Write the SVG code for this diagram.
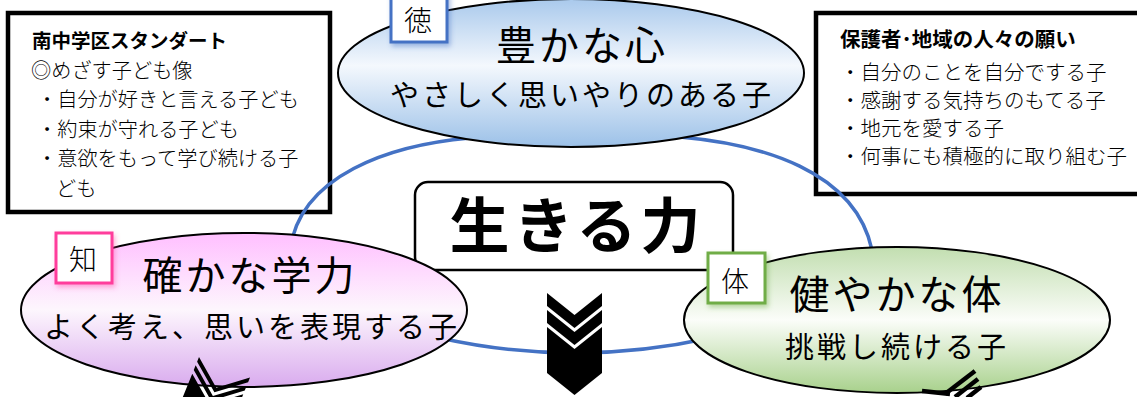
<svg xmlns="http://www.w3.org/2000/svg" width="1137" height="397" viewBox="0 0 1137 397">
<style>
.t{font-family:"Noto Sans CJK JP","Noto Sans",sans-serif;fill:#000}
.b{font-weight:700}
.box{fill:#fff;stroke:#000;stroke-width:4.5}
.ell{stroke:#000;stroke-width:2}
.conn{fill:none;stroke:#4472c4;stroke-width:3.5}
.big{font-size:40px;letter-spacing:3px;text-anchor:middle}
.sub{font-size:29px;letter-spacing:3px;text-anchor:middle}
.lab{font-size:28px;text-anchor:middle;font-weight:300}
.list{font-size:20.2px;font-weight:300}
.rlist{font-size:20.5px;font-weight:300}
.lb{fill:#fff;stroke-width:3}
.chev{fill:#000}
</style>
<defs>
<linearGradient id="gBlue" x1="0" y1="0" x2="0" y2="1">
<stop offset="0" stop-color="#a9c9ec"/><stop offset="0.45" stop-color="#f4f8fd"/><stop offset="1" stop-color="#9cc1e8"/>
</linearGradient>
<linearGradient id="gPink" x1="0" y1="0" x2="0" y2="1">
<stop offset="0" stop-color="#ffbfff"/><stop offset="0.5" stop-color="#fdf6fd"/><stop offset="1" stop-color="#d9abee"/>
</linearGradient>
<linearGradient id="gGreen" x1="0" y1="0" x2="0" y2="1">
<stop offset="0" stop-color="#c2deb0"/><stop offset="0.5" stop-color="#fbfdf9"/><stop offset="1" stop-color="#a8d18c"/>
</linearGradient>
<filter id="shB" x="-30%" y="-30%" width="160%" height="160%"><feDropShadow dx="2" dy="3" stdDeviation="2.5" flood-color="#4472c4" flood-opacity="0.45"/></filter>
<filter id="shP" x="-30%" y="-30%" width="160%" height="160%"><feDropShadow dx="2" dy="3" stdDeviation="2.5" flood-color="#ff3c9c" flood-opacity="0.4"/></filter>
<filter id="shG" x="-30%" y="-30%" width="160%" height="160%"><feDropShadow dx="2" dy="3" stdDeviation="2.5" flood-color="#70ad47" flood-opacity="0.45"/></filter>
<g id="chevBig" class="chev">
<path d="M0 0 L27.5 22 L55 0 L55 13 L27.5 35 L0 13 Z"/>
<path d="M0 17 L27.5 39 L55 17 L55 30 L27.5 52 L0 30 Z"/>
<path d="M0 34 L27.5 56 L55 34 L55 80 L27.5 102 L0 80 Z"/>
</g>
<g id="chevThin" class="chev">
<path d="M0 0 L27.5 22 L55 0 L55 5 L27.5 27 L0 5 Z"/>
<path d="M0 9 L27.5 31 L55 9 L55 14 L27.5 36 L0 14 Z"/>
<path d="M0 18 L27.5 40 L55 18 L55 80 L27.5 102 L0 80 Z"/>
</g>
</defs>
<rect width="1137" height="397" fill="#fff"/>

<g id="standard">
<rect class="box" x="8" y="13" width="322" height="199"/>
<text class="t b" x="32" y="48" font-size="19.5">南中学区スタンダート</text>
<text class="t list" x="31" y="78">◎めざす子ども像</text>
<text class="t list" x="37" y="107">・自分が好きと言える子ども</text>
<text class="t list" x="37" y="137">・約束が守れる子ども</text>
<text class="t list" x="37" y="166">・意欲をもって学び続ける子</text>
<text class="t list" x="56" y="196">ども</text>
</g>

<g id="wishes">
<rect class="box" x="816" y="13" width="326" height="181"/>
<text class="t b" x="840" y="47" font-size="20.5">保護者･地域の人々の願い</text>
<text class="t rlist" x="840" y="80">・自分のことを自分でする子</text>
<text class="t rlist" x="840" y="108">・感謝する気持ちのもてる子</text>
<text class="t rlist" x="840" y="136">・地元を愛する子</text>
<text class="t rlist" x="840" y="164">・何事にも積極的に取り組む子</text>
</g>

<g id="ikiru">
<rect x="415" y="182" width="318" height="88" rx="13" fill="#fff" stroke="#000" stroke-width="2.5"/>
<text class="t b" x="577" y="248" font-size="60" letter-spacing="4" text-anchor="middle">生きる力</text>
</g>

<g id="connectors">
<path class="conn" d="M470 138 C390 145 300 175 290 250"/>
<path class="conn" d="M680 137 C760 144 855 170 872 250"/>
<path class="conn" d="M440 338 Q575 368 710 338"/>
</g>

<g id="kokoro">
<ellipse class="ell" cx="571" cy="73" rx="233" ry="74" fill="url(#gBlue)"/>
<text class="t big" x="582" y="60">豊かな心</text>
<text class="t sub" x="582" y="106">やさしく思いやりのある子</text>
</g>
<g id="toku">
<rect class="lb" x="391" y="-8" width="56" height="50" stroke="#4472c4" filter="url(#shB)"/>
<text class="t lab" x="418" y="31">徳</text>
</g>

<g id="gakuryoku">
<ellipse class="ell" cx="244" cy="310" rx="223" ry="77" fill="url(#gPink)"/>
<text class="t big" x="250" y="290">確かな学力</text>
<text class="t sub" x="252" y="338">よく考え、思いを表現する子</text>
</g>
<g id="chi">
<rect class="lb" x="56" y="233" width="56" height="50" stroke="#ff3c9c" filter="url(#shP)"/>
<text class="t lab" x="83" y="270">知</text>
</g>

<g id="karada">
<ellipse class="ell" cx="897" cy="320" rx="213" ry="73" fill="url(#gGreen)"/>
<text class="t big" x="897" y="309">健やかな体</text>
<text class="t sub" x="897" y="358">挑戦し続ける子</text>
</g>
<g id="tai">
<rect class="lb" x="708" y="253" width="57" height="50" stroke="#70ad47" filter="url(#shG)"/>
<text class="t lab" x="735" y="292">体</text>
</g>

<g id="arrows">
<use href="#chevBig" transform="translate(547 293)"/>
<use href="#chevThin" transform="translate(199 357) rotate(22)"/>
<g stroke="#000" stroke-width="4.5" fill="none">
<line x1="975" y1="371" x2="945" y2="394"/>
<line x1="978" y1="379" x2="955" y2="397"/>
<line x1="981" y1="387" x2="967" y2="398"/>
<line x1="922" y1="391" x2="950" y2="394"/>
</g>
</g>
</svg>
